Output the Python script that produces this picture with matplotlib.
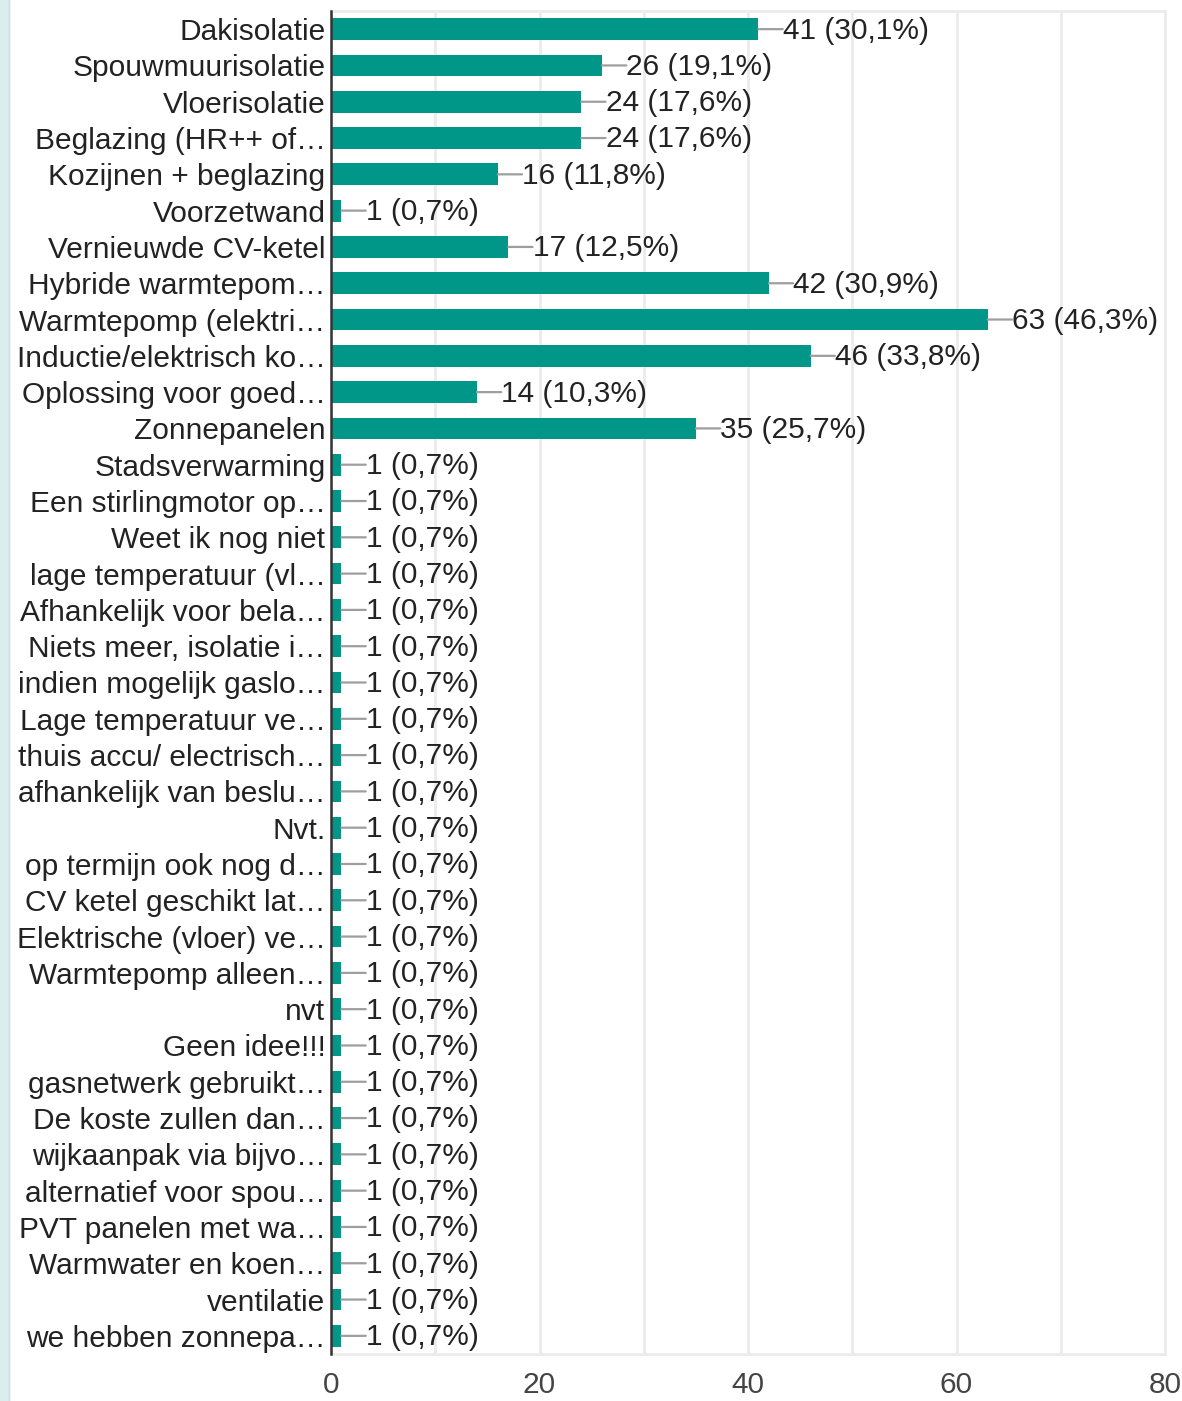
import matplotlib
matplotlib.use("Agg")
import matplotlib.pyplot as plt
from matplotlib.patches import Rectangle
from matplotlib.lines import Line2D

# antwoorden (van boven naar beneden)
categories = [
    "Dakisolatie", "Spouwmuurisolatie", "Vloerisolatie", "Beglazing (HR++ of…",
    "Kozijnen + beglazing", "Voorzetwand", "Vernieuwde CV-ketel",
    "Hybride warmtepom…", "Warmtepomp (elektri…", "Inductie/elektrisch ko…",
    "Oplossing voor goed…", "Zonnepanelen", "Stadsverwarming",
    "Een stirlingmotor op…", "Weet ik nog niet", "lage temperatuur (vl…",
    "Afhankelijk voor bela…", "Niets meer, isolatie i…", "indien mogelijk gaslo…",
    "Lage temperatuur ve…", "thuis accu/ electrisch…", "afhankelijk van beslu…",
    "Nvt.", "op termijn ook nog d…", "CV ketel geschikt lat…",
    "Elektrische (vloer) ve…", "Warmtepomp alleen…", "nvt", "Geen idee!!!",
    "gasnetwerk gebruikt…", "De koste zullen dan…", "wijkaanpak via bijvo…",
    "alternatief voor spou…", "PVT panelen met wa…", "Warmwater en koen…",
    "ventilatie", "we hebben zonnepa…",
]
counts = [41, 26, 24, 24, 16, 1, 17, 42, 63, 46, 14, 35] + [1] * 25
percents = ["30,1", "19,1", "17,6", "17,6", "11,8", "0,7", "12,5", "30,9",
            "46,3", "33,8", "10,3", "25,7"] + ["0,7"] * 25
xticks = [0, 20, 40, 60, 80]

bar_color = "#009688"
grid_color = "#ebebeb"

plt.rcParams['font.family'] = ['Liberation Sans', 'DejaVu Sans']

fig = plt.figure(figsize=(11.82, 14.01), dpi=100)
ax = fig.add_axes([331 / 1182, 1 - 1354 / 1401, (1165 - 331) / 1182, (1354 - 11) / 1401])

y = list(range(len(categories)))
ax.barh(y, counts, height=0.6, color=bar_color, zorder=3)

# lijntje + label achter elke balk
for i, (n, p) in enumerate(zip(counts, percents)):
    ax.annotate("", xy=(n, i), xytext=(17.5, 0), textcoords="offset points",
                arrowprops=dict(arrowstyle="-", color="#9e9e9e", lw=1.6,
                                shrinkA=0, shrinkB=0), zorder=4)
    ax.annotate(f"{n} ({p}%)", xy=(n, i), xytext=(17.5, -1), textcoords="offset points",
                ha="left", va="center", fontsize=21.5, color="#222222", zorder=5)

ax.set_xlim(0, 80)
ax.set_ylim(len(categories) - 0.5, -0.5)
ax.set_yticks(y)
ax.set_yticklabels(categories, fontsize=21.5, color="#222222")
ax.set_xticks(xticks)
ax.set_xticklabels([str(t) for t in xticks], fontsize=21.5, color="#444444")
ax.set_xticks(range(10, 80, 20), minor=True)
ax.tick_params(axis="y", length=0, pad=4)
ax.tick_params(axis="x", which="both", length=0, pad=12)
ax.grid(axis="x", which="both", color=grid_color, lw=2, zorder=0)

for side in ["top", "right", "bottom"]:
    ax.spines[side].set_color(grid_color)
    ax.spines[side].set_linewidth(2)
ax.spines["left"].set_color("#333333")
ax.spines["left"].set_linewidth(1.8)
ax.spines["left"].set_zorder(6)

# lichte rand links
fig.patches.append(Rectangle((0, 0), 9 / 1182, 1, transform=fig.transFigure,
                             color="#daeeee", zorder=0))
fig.lines.append(Line2D([9.5 / 1182, 9.5 / 1182], [0, 1], transform=fig.transFigure,
                        color="#cfdcdc", lw=1))

fig.savefig("out.png", dpi=100)
